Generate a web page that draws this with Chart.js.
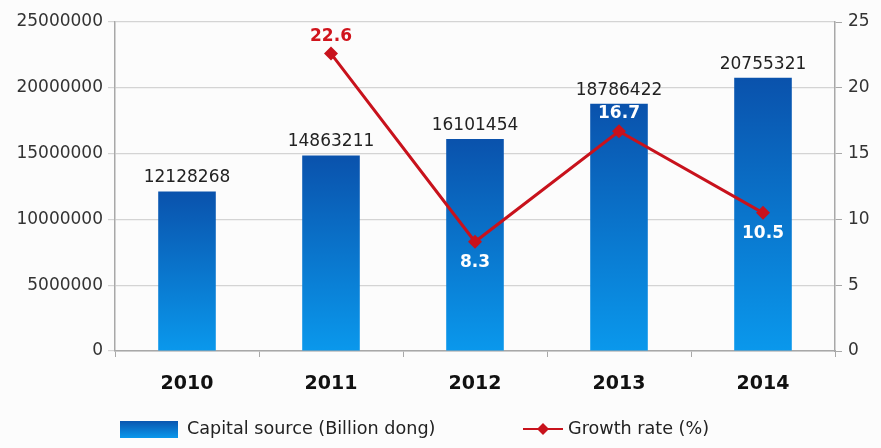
<!DOCTYPE html>
<html>
<head>
<meta charset="utf-8">
<title>Capital source and growth rate 2010-2014</title>
<script src="https://cdn.jsdelivr.net/npm/chart.js"></script>
<style>
  html, body { margin: 0; padding: 0; background: #fcfcfc; }
  #wrap { width: 881px; height: 448px; }
</style>
</head>
<body>
<div id="wrap"><canvas id="chart" width="881" height="448"></canvas></div>
<script>
/* ── Data ── */
const years = ['2010', '2011', '2012', '2013', '2014'];
const capitalSource = [12128268, 14863211, 16101454, 18786422, 20755321];
const growthRate = [null, 22.6, 8.3, 16.7, 10.5];
const capitalTicks = [0, 5000000, 10000000, 15000000, 20000000, 25000000];
const growthTicks = [0, 5, 10, 15, 20, 25];

const legendCapital = 'Capital source (Billion dong)';
const legendGrowth = 'Growth rate (%)';

/* ── Styles ── */
const FONT = '"DejaVu Sans", sans-serif';
const BAR_TOP = '#0a52ac';
const BAR_BOTTOM = '#0a98ec';
const LINE_RED = '#c8121c';
const GRID = '#d4d4d4';
const AXIS = '#a8a8a8';

// where each growth label sits relative to its point, and its colour
const growthLabelSide = [null, 'above', 'below', 'above', 'below'];
const growthLabelColor = [null, '#d0141c', '#ffffff', '#ffffff', '#ffffff'];

function barGradient(ctx, top, bottom) {
  const g = ctx.createLinearGradient(0, top, 0, bottom);
  g.addColorStop(0, BAR_TOP);
  g.addColorStop(1, BAR_BOTTOM);
  return g;
}

/* ── Value labels on bars and line points ── */
const valueLabels = {
  id: 'valueLabels',
  afterDatasetsDraw(chart) {
    const ctx = chart.ctx;
    ctx.save();
    ctx.textAlign = 'center';

    const bars = chart.getDatasetMeta(0).data;
    ctx.font = '17px ' + FONT;
    ctx.fillStyle = '#222';
    ctx.textBaseline = 'bottom';
    bars.forEach((bar, i) => {
      ctx.fillText(String(capitalSource[i]), bar.x, bar.y - 5);
    });

    const pts = chart.getDatasetMeta(1).data;
    ctx.font = 'bold 17px ' + FONT;
    pts.forEach((pt, i) => {
      if (growthRate[i] == null) return;
      ctx.fillStyle = growthLabelColor[i];
      if (growthLabelSide[i] === 'above') {
        ctx.textBaseline = 'bottom';
        ctx.fillText(growthRate[i].toFixed(1), pt.x, pt.y - 9);
      } else {
        ctx.textBaseline = 'top';
        ctx.fillText(growthRate[i].toFixed(1), pt.x, pt.y + 12);
      }
    });
    ctx.restore();
  }
};

/* ── Legend along the bottom ── */
const bottomLegend = {
  id: 'bottomLegend',
  afterDraw(chart) {
    const ctx = chart.ctx;
    const cy = 429;
    ctx.save();
    ctx.fillStyle = barGradient(ctx, cy - 9, cy + 9);
    ctx.fillRect(120, cy - 8, 58, 17);

    ctx.strokeStyle = LINE_RED;
    ctx.lineWidth = 2;
    ctx.beginPath();
    ctx.moveTo(523, cy);
    ctx.lineTo(563, cy);
    ctx.stroke();
    ctx.fillStyle = LINE_RED;
    ctx.beginPath();
    ctx.moveTo(543, cy - 6);
    ctx.lineTo(549, cy);
    ctx.lineTo(543, cy + 6);
    ctx.lineTo(537, cy);
    ctx.closePath();
    ctx.fill();

    ctx.font = '17.6px ' + FONT;
    ctx.fillStyle = '#222';
    ctx.textBaseline = 'middle';
    ctx.textAlign = 'left';
    ctx.fillText(legendCapital, 187, cy);
    ctx.fillText(legendGrowth, 568, cy);
    ctx.restore();
  }
};

new Chart(document.getElementById('chart'), {
  type: 'bar',
  data: {
    labels: years,
    datasets: [
      {
        label: legendCapital,
        data: capitalSource,
        yAxisID: 'y',
        order: 2,
        barPercentage: 0.4,
        categoryPercentage: 1,
        backgroundColor: c => {
          const chart = c.chart;
          if (!chart.chartArea || c.raw == null) return BAR_BOTTOM;
          const top = chart.scales.y.getPixelForValue(c.raw);
          return barGradient(chart.ctx, top, chart.chartArea.bottom);
        }
      },
      {
        type: 'line',
        label: legendGrowth,
        data: growthRate,
        yAxisID: 'y1',
        order: 1,
        borderColor: LINE_RED,
        borderWidth: 3,
        backgroundColor: LINE_RED,
        pointStyle: 'rectRot',
        pointRadius: 7,
        pointBorderWidth: 0,
        tension: 0
      }
    ]
  },
  options: {
    responsive: false,
    animation: false,
    layout: { padding: { top: 22, bottom: 47, left: 0, right: 0 } },
    plugins: {
      legend: { display: false },
      tooltip: { enabled: false }
    },
    scales: {
      x: {
        offset: true,
        grid: { offset: true, drawOnChartArea: false, tickLength: 6, color: AXIS },
        border: { color: AXIS, width: 1.5 },
        ticks: { color: '#111', font: { family: FONT, size: 19, weight: 'bold' }, padding: 16 },
        afterFit: s => { s.height = 50; }
      },
      y: {
        position: 'left',
        min: 0,
        max: 25000000,
        afterBuildTicks: s => { s.ticks = capitalTicks.map(v => ({ value: v })); },
        grid: { color: GRID, tickLength: 7, lineWidth: 1.2 },
        border: { color: AXIS, width: 1.5 },
        ticks: { color: '#333', font: { family: FONT, size: 17 }, padding: 5, callback: v => String(v) },
        afterFit: s => { s.width = 115; }
      },
      y1: {
        position: 'right',
        min: 0,
        max: 25,
        afterBuildTicks: s => { s.ticks = growthTicks.map(v => ({ value: v })); },
        grid: { drawOnChartArea: false, color: AXIS, tickLength: 7 },
        border: { color: AXIS, width: 1.5 },
        ticks: { color: '#333', font: { family: FONT, size: 17 }, padding: 6, callback: v => String(v) },
        afterFit: s => { s.width = 46; }
      }
    }
  },
  plugins: [valueLabels, bottomLegend]
});
</script>
</body>
</html>
